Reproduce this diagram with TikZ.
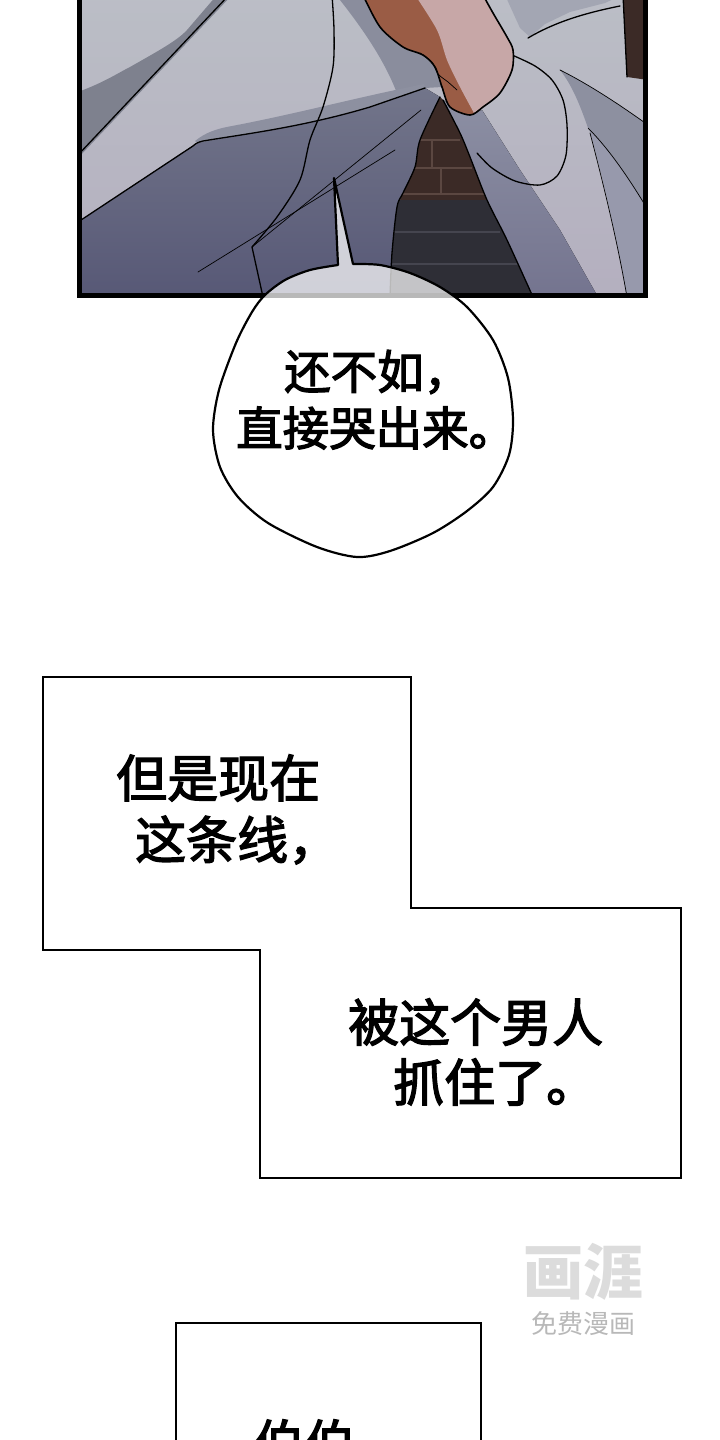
\documentclass[tikz,border=0pt]{standalone}
\usepackage{fontspec}
\newfontfamily\cjk[FakeBold=2.6]{Noto Sans CJK SC}
\newfontfamily\cjkwm{Noto Sans CJK SC}
\definecolor{cLightTop}{HTML}{BBBEC6}
\definecolor{cLightBot}{HTML}{B4AFBF}
\definecolor{cBand}{HTML}{7E818E}
\definecolor{cShade}{HTML}{8D90A0}
\definecolor{cCollar}{HTML}{A3A6B3}
\definecolor{cLowTop}{HTML}{72758A}
\definecolor{cLowBot}{HTML}{575876}
\definecolor{cBandB}{HTML}{8A8D9D}
\definecolor{cSkinB}{HTML}{9A5C45}
\definecolor{cSkinP}{HTML}{C7A7A7}
\definecolor{cBrick}{HTML}{3B2A26}
\definecolor{cBrickLine}{HTML}{5B4741}
\definecolor{cFloor}{HTML}{2E2E36}
\definecolor{cFloorLine}{HTML}{45454F}
\definecolor{cBandTop}{HTML}{8C8FA3}
\definecolor{cBandBot}{HTML}{74748F}
\definecolor{cStrip}{HTML}{9799AC}
\definecolor{cWmLogo}{HTML}{DCDCDC}
\definecolor{cWmText}{HTML}{B8B8B8}
\tikzset{
  ink/.style={line width=1.3pt, black, line join=round, line cap=round},
  thinink/.style={line width=0.7pt, black, line cap=round},
  boxframe/.style={draw=black, line width=1.8pt, fill=white, line join=miter},
  boxtext/.style={font=\cjk\fontsize{51}{51}\selectfont, inner sep=0pt, anchor=west},
  bubtext/.style={font=\cjk\fontsize{46.5}{46.5}\selectfont, inner sep=0pt, anchor=west},
  wmbig/.style={font=\cjkwm\bfseries\fontsize{60}{60}\selectfont, inner sep=0pt},
  wmsmall/.style={font=\cjkwm\fontsize{26}{26}\selectfont, inner sep=0pt},
}
\begin{document}
\begin{tikzpicture}[x=1pt,y=-1pt]
\useasboundingbox (0,0) rectangle (720,1440);
\clip (0,0) rectangle (720,1440);
\fill[white] (0,0) rectangle (720,1440);

% ================= top panel artwork =================
\begin{scope}
\clip (79.5,-10) rectangle (645.5,295.5);
\fill[top color=cLightTop, bottom color=cLightBot] (70,-10) rectangle (660,300);
% upper-left dark band
\fill[cBand] (78,92) .. controls (105,82) and (118,73) .. (130,67)
  .. controls (160,50) and (178,40) .. (187,30) -- (217,-5) -- (232,-5) -- (78,158) -- cycle;
\draw[ink] (78,155) -- (229,-5);
% shadow band left of the arm
\fill[cBandB] (336,-5) -- (363,-5) -- (380,27) -- (403,47) -- (423,55) -- (435,67) -- (442,87)
  -- (425,88) -- (398,96) .. controls (385,60) and (360,25) .. (336,-5) -- cycle;
% lower dark cloth
\fill[top color=cLowTop, bottom color=cLowBot] (78,222) -- (197,143)
  .. controls (237,135) and (303,127) .. (370,107) -- (425,88) -- (440,97) -- (420,140)
  -- (415,167) -- (403,193) -- (397,207) -- (392,253) -- (390,300) -- (78,300) -- cycle;
% shade above boundary
\fill[cShade] (195,141) .. controls (205,133) and (215,129) .. (232,126)
  .. controls (300,113) and (350,99) .. (424,84) -- (425,88) -- (370,107)
  .. controls (303,127) and (237,135) .. (197,143) -- cycle;
\draw[ink] (78,222) -- (193,146) .. controls (196,143) and (199,142) .. (203,141)
  .. controls (245,134) and (303,127) .. (370,107) -- (425,88);
% fold lines
\draw[ink] plot[smooth] coordinates {(332,-5) (334,30) (333,67) (323,107) (310,140) (300,180) (277,217) (252,247)} -- (263,297);
\draw[thinink] (252,247) -- (421,110);
\draw[thinink] (198,272) -- (395,150);

% dark background (brick and floor)
\fill[cBrick] (440,97) -- (420,140) -- (415,167) -- (403,193) -- (397,207) -- (392,253) -- (390,300)
  -- (536,300) -- (533,293) -- (507,240) -- (487,200) -- (470,157) -- (460,133) -- (443,100) -- cycle;
\fill[cFloor] (399,200) -- (397,207) -- (392,253) -- (390,300) -- (536,300) -- (533,293) -- (507,240) -- (490,200) -- cycle;
\draw[cBrickLine, line width=1.5pt] (420,140) -- (460,140) (415,168) -- (472,168) (403,194) -- (485,194)
  (432,140) -- (432,168) (441,168) -- (441,194);
\draw[cFloorLine, line width=1.2pt] (394,232) -- (500,232) (392,264) -- (518,264);
\draw[ink] plot[smooth] coordinates {(440,97) (420,140) (415,167) (403,193) (397,207) (392,253) (390,297)};

% sleeve shadow band
\fill[top color=cBandTop, bottom color=cBandBot] (443,100) -- (460,133) -- (470,157) -- (487,200) -- (507,240)
  -- (533,297) -- (598,297) -- (560,230) -- (520,170) -- (482,110) -- (470,115) -- cycle;
\draw[ink] plot[smooth] coordinates {(443,100) (460,133) (470,157) (487,200) (507,240) (533,297)};
% cuff loop
\draw[ink] plot[smooth] coordinates {(512,55) (535,66) (552,80) (563,100) (567,125) (566,155) (557,176) (540,185) (515,181) (492,168) (477,153)};

% right strip
\fill[cStrip] (588,125) .. controls (610,150) and (630,180) .. (648,210) -- (648,300) -- (627,300)
  .. controls (618,245) and (605,185) .. (588,125) -- cycle;
\fill[cShade] (560,70) .. controls (590,85) and (620,105) .. (648,125) -- (648,210)
  .. controls (630,180) and (610,150) .. (588,128) .. controls (580,105) and (572,85) .. (560,70) -- cycle;
\draw[thinink] (560,70) .. controls (590,85) and (620,105) .. (648,125);
\draw[thinink] (588,128) .. controls (610,150) and (630,180) .. (648,210);
\draw[thinink] (590,133) .. controls (605,190) and (618,245) .. (627,297);
% top-right corner background
\fill[cBrick] (623,-5) -- (648,-5) -- (648,80) -- (627,77) -- cycle;
\draw[ink] (623,-5) -- (627,77);
% top collar / fold
\fill[cCollar] (505,-5) -- (622,-5) -- (605,3) -- (570,12) -- (545,24) -- (530,37) -- (520,28) -- cycle;
\draw[ink] (528,38) .. controls (555,22) and (585,13) .. (620,6);

% arm
\fill[cSkinB] plot[smooth] coordinates {(363,-5) (380,27) (403,47) (423,55) (435,67) (442,87) (450,107) (470,115) (483,107) (500,93) (512,70) (513,50) (507,37) (493,13) (483,-5)} -- cycle;
\fill[cSkinP] plot[smooth] coordinates {(415,-5) (437,30) (447,60) (460,87) (474,113)} --
  plot[smooth] coordinates {(483,107) (500,93) (512,70) (513,50) (507,37) (493,13) (483,-5)} -- cycle;
\draw[ink, line width=1.6pt] plot[smooth] coordinates {(363,-5) (380,27) (403,47) (423,55) (435,67) (442,87) (450,107) (470,115) (483,107) (500,93) (512,70) (513,50) (507,37) (493,13) (483,-5)};
\draw[thinink] plot[smooth] coordinates {(420,53) (432,62) (438,74) (448,82) (457,90)};
\end{scope}
% panel border
\draw[line width=4.5pt, line join=miter] (79.5,-10) -- (79.5,295.5) -- (645.5,295.5) -- (645.5,-10);

% ================= speech bubble =================
\filldraw[fill=white, fill opacity=0.72, draw=black, line width=2.2pt, line join=round]
  plot[smooth] coordinates {(353,264) (380,265) (410,273) (440,287) (467,307) (493,340) (508,378) (513,420) (509,455) (493,487) (467,511) (433,533) (390,551) (357,557) (317,547) (268,523) (238,497) (220,467) (213,430) (219,390) (236,343) (252,312) (265,295) (285,280) (310,270) (338,265)}
  -- (334,178) -- cycle;
\node[bubtext] (bub1) at (284,372) {还不如，};
\node[bubtext] (bub2) at (236,428) {直接哭出来。};

% ================= caption boxes =================
\draw[boxframe] (43,677) -- (411,677) -- (411,908) -- (681,908) -- (681,1178) -- (260,1178) -- (260,950) -- (43,950) -- cycle;
\node[boxtext] (cap1) at (116,778) {但是现在};
\node[boxtext] (cap2) at (135,840) {这条线，};
\node[boxtext] (cap3) at (348,1022) {被这个男人};
\node[boxtext] (cap4) at (393,1082) {抓住了。};

% ================= watermark =================
\node[wmbig, text=cWmLogo] (wm) at (583,1272) {画涯};
\node[wmsmall, text=cWmText] (wms) at (583,1324) {免费漫画};

% ================= bottom box =================
\draw[boxframe, line width=2.2pt] (176,1323) rectangle (481,1460);
\node[boxtext] (cap5) at (253,1443) {伯伯};
\end{tikzpicture}
\end{document}
